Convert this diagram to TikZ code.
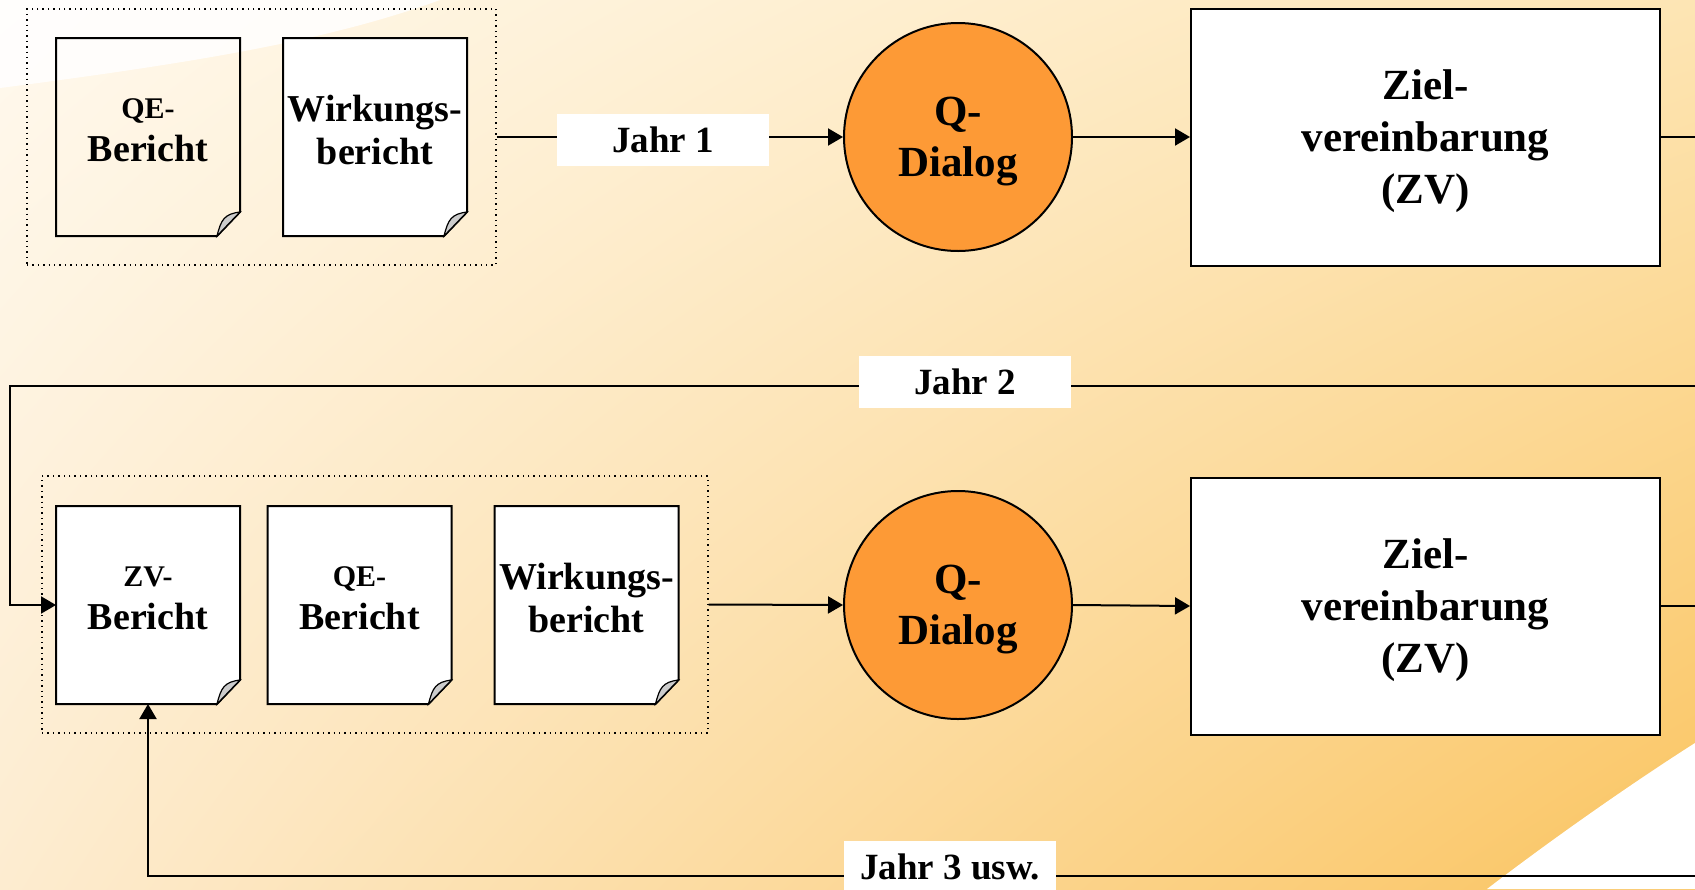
\documentclass[tikz,border=0pt]{standalone}
\usepackage{fontspec}
\setmainfont{Liberation Serif}
\usetikzlibrary{positioning,fit,backgrounds,arrows.meta,shadings}

\definecolor{bgul}{RGB}{255,249,238}
\definecolor{bgur}{RGB}{253,229,180}
\definecolor{bgll}{RGB}{253,236,208}
\definecolor{bglr}{RGB}{250,196,96}
\definecolor{dialog}{RGB}{253,154,54}

% page with folded corner, drawn behind the text of node #2
\newcommand\docpage[2][white]{%
  \begin{scope}[on background layer]
    \draw[line width=1pt, fill=#1] (#2.north west) -- (#2.north east)
      -- ([yshift=12pt]#2.south east) -- ([xshift=-11.5pt]#2.south east)
      -- (#2.south west) -- cycle;
    \draw[line width=0.6pt, fill=gray!40] ([xshift=-11.5pt]#2.south east)
      .. controls ([xshift=-9.5pt,yshift=8pt]#2.south east) and ([xshift=-8pt,yshift=11pt]#2.south east)
      .. ([yshift=12pt]#2.south east) -- cycle;
  \end{scope}}
\newcommand\firstline[1]{{\fontsize{15}{18}\selectfont #1}}

\begin{document}
\begin{tikzpicture}[x=0.5pt, y=-0.5pt, line width=1pt,
      page/.style = {rectangle, minimum width=91pt, minimum height=98pt,
        inner sep=0pt, align=center, text depth=7pt,
        font=\bfseries\fontsize{19}{21.5}\selectfont},
      group/.style = {rectangle, draw, dotted, line width=0.7pt, inner sep=0pt},
      dialogue/.style = {circle, draw, fill=dialog, minimum size=114pt,
        inner sep=0pt, align=center, text depth=0pt,
        font=\bfseries\fontsize{21.5}{25.5}\selectfont},
      goal/.style = {rectangle, draw, fill=white, minimum width=234.5pt,
        minimum height=128.5pt, align=center, text depth=0pt,
        font=\bfseries\fontsize{21.5}{26}\selectfont},
      year/.style = {rectangle, fill=white, minimum width=106pt,
        minimum height=26pt, inner sep=0pt,
        font=\bfseries\fontsize{18.5}{22}\selectfont},
      arrow/.style = {-{Triangle[length=7.5pt,width=8.5pt]}}]

  % background
  \begin{scope}[on background layer]
    \shade[upper left=bgul, upper right=bgur, lower left=bgll, lower right=bglr]
      (0,0) rectangle (1695,889);
    \fill[white, opacity=0.85] (0,0) -- (0,88)
      .. controls (200,62) and (330,40) .. (440,0) -- cycle;
    \fill[white] (1695,743) .. controls (1640,778) and (1560,833) .. (1487,889)
      -- (1695,889) -- cycle;
  \end{scope}
  \useasboundingbox (0,0) rectangle (1695,889);

  % Jahr 1
  \node[page] (qe1) at (148,137) {\firstline{QE-}\\Bericht};
  \node[page] (wb1) at (375,137) {Wirkungs-\\bericht};
  \docpage[none]{qe1}
  \docpage{wb1}
  \node[group, fit={(27,9) (496,265)}] (grp1) {};
  \node[dialogue] (qd1) at (958,137) {Q-\\Dialog};
  \node[goal] (zv1) at (1425.5,137) {Ziel-\\vereinbarung\\(ZV)};
  \coordinate (out1) at (1695,137);

  \draw[arrow] (grp1.east) -- (qd1.west);
  \draw[arrow] (qd1.east) -- (zv1.west);
  \draw (zv1.east) -- (out1);
  \node[year] (jahr1) at (663,140) {Jahr 1};

  % Jahr 2
  \node[page] (zvb) at (148,605) {\firstline{ZV-}\\Bericht};
  \node[page] (qe2) at (359.5,605) {\firstline{QE-}\\Bericht};
  \node[page] (wb2) at (586.5,605) {Wirkungs-\\bericht};
  \docpage{zvb}
  \docpage{qe2}
  \docpage{wb2}
  \node[group, fit={(42,476) (708,733)}] (grp2) {};
  \node[dialogue] (qd2) at (958,605) {Q-\\Dialog};
  \node[goal] (zv2) at (1425.5,606) {Ziel-\\vereinbarung\\(ZV)};
  \coordinate (out2) at (1695,606);
  \coordinate (in2) at (1695,386);
  \coordinate (in3) at (1695,876);

  \draw[arrow] (grp2.east) -- (qd2.west);
  \draw[arrow] (qd2.east) -- (zv2.west);
  \draw (zv2.east) -- (out2);
  \draw[arrow] (in2) -- (10,386) |- (zvb.west);
  \draw[arrow] (in3) -| (zvb.south);
  \node[year] (jahr2) at (965,382) {Jahr 2};
  \node[year] (jahr3) at (950,867) {Jahr 3 usw.};
\end{tikzpicture}
\end{document}
